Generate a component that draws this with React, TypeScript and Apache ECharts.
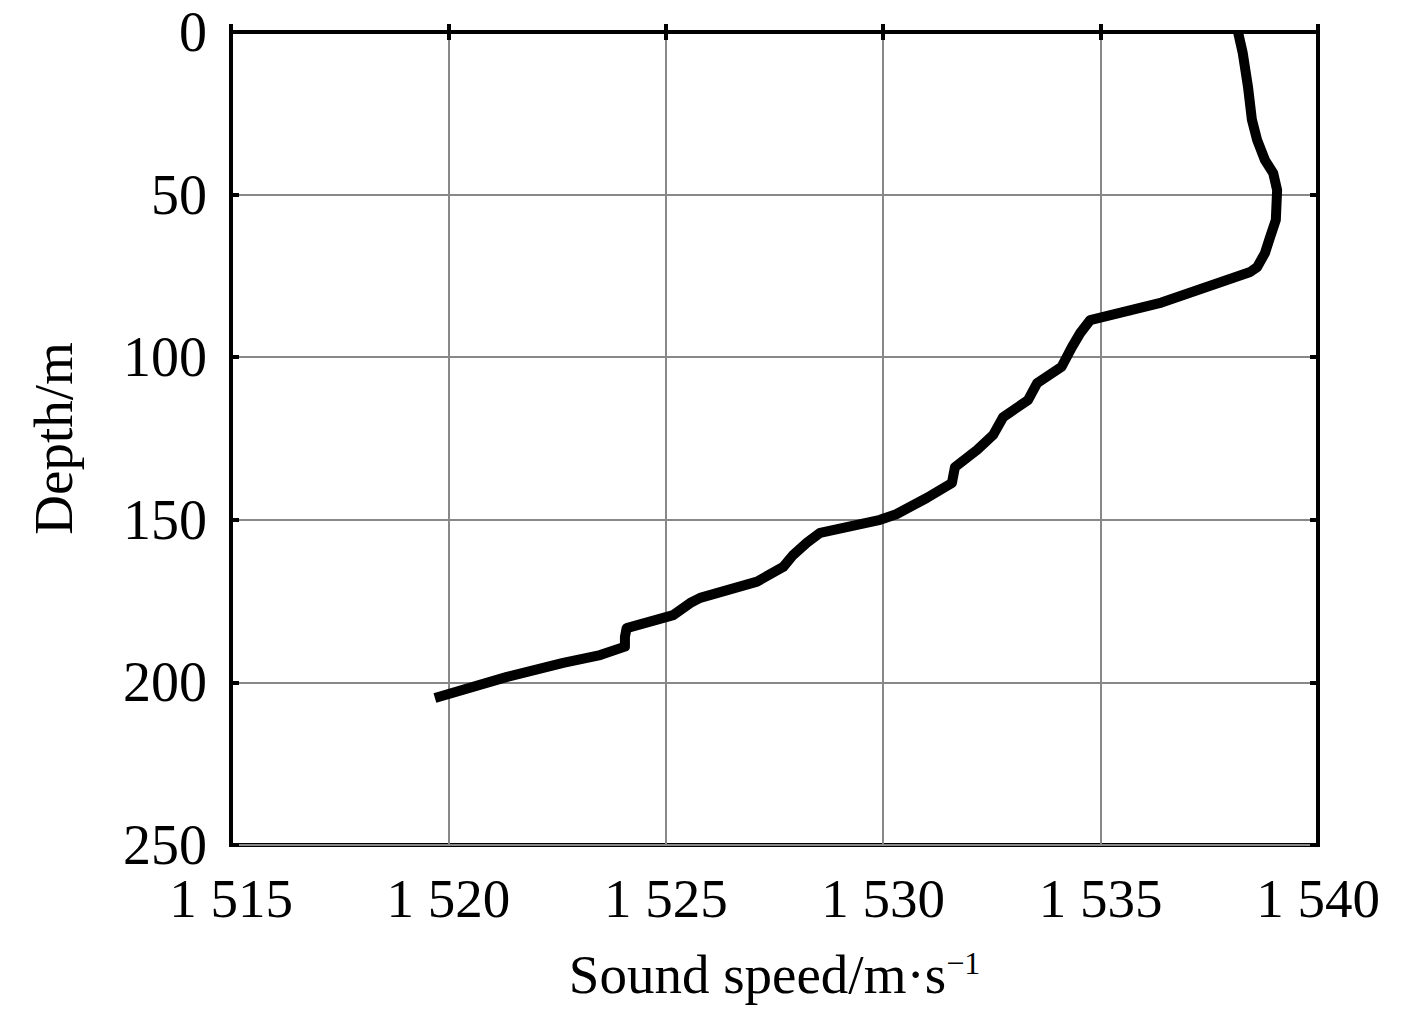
import React, { useEffect, useRef } from "react";
import * as echarts from "echarts";

const depthTicks = [0, 50, 100, 150, 200, 250];
const speedTicks = [1515, 1520, 1525, 1530, 1535, 1540];

const soundSpeed = [
  1538.16, 1538.27, 1538.39, 1538.48, 1538.6, 1538.78, 1538.97, 1539.06, 1539.03,
  1538.9, 1538.78, 1538.6, 1538.44, 1536.4, 1534.76, 1534.53, 1534.34, 1534.1,
  1533.54, 1533.33, 1532.76, 1532.53, 1532.16, 1531.65, 1531.58, 1531.0, 1530.3,
  1529.93, 1528.55, 1528.25, 1527.93, 1527.7, 1527.1, 1525.79, 1525.56, 1525.17,
  1524.1, 1524.06, 1524.06, 1523.49, 1522.64, 1521.35, 1519.69,
];
const depth = [
  0, 6.5, 16.9, 27, 33.2, 39.4, 43.4, 48.6, 57.8,
  63, 68, 72.3, 73.8, 83.2, 88.6, 92.6, 96.9, 103,
  108, 113.2, 118.4, 123.9, 128.5, 133.8, 138.7, 143.3, 148.3,
  150, 154, 157, 160.8, 164.5, 169, 174, 175.6, 179.3,
  183.3, 186, 189, 191.6, 194, 198.3, 204.8,
];

const FONT = "'Liberation Serif', 'Times New Roman', serif";

export default function App() {
  const ref = useRef<HTMLDivElement>(null);
  useEffect(() => {
    if (!ref.current) return;
    const chart = echarts.init(ref.current, undefined, { renderer: "svg" });
    const fmtSpeed = (v: number) => {
      const s = String(v);
      return s.length === 4 ? s[0] + " " + s.slice(1) : s;
    };
    const data = soundSpeed.map((s, i) => [s, depth[i]]);
    const tickStyle = { show: true, inside: true, length: 8, lineStyle: { color: "#000", width: 4 } };
    chart.setOption({
      animation: false,
      backgroundColor: "#fff",
      grid: {
        left: 231,
        right: 99,
        top: 32,
        bottom: 164,
        show: true,
        borderColor: "#000",
        borderWidth: 4,
        backgroundColor: "transparent",
      },
      xAxis: [
        {
          type: "value",
          min: speedTicks[0],
          max: speedTicks[speedTicks.length - 1],
          interval: 5,
          position: "bottom",
          axisLine: { show: true, lineStyle: { color: "#000", width: 4 } },
          axisTick: tickStyle,
          splitLine: { show: true, lineStyle: { color: "#888", width: 2 } },
          axisLabel: {
            fontFamily: FONT,
            fontSize: 55,
            color: "#000",
            margin: 26,
            formatter: fmtSpeed,
          },
          name: "Sound speed/m·s{sup|−1}",
          nameLocation: "middle",
          nameGap: 102,
          nameTextStyle: {
            fontFamily: FONT,
            fontSize: 55,
            color: "#000",
            rich: {
              sup: { fontFamily: FONT, fontSize: 32, color: "#000", verticalAlign: "top", lineHeight: 55, padding: [0, 0, 22, 0] },
            },
          },
        },
        {
          type: "value",
          min: speedTicks[0],
          max: speedTicks[speedTicks.length - 1],
          interval: 5,
          position: "top",
          axisLine: { show: true, lineStyle: { color: "#000", width: 4 } },
          axisTick: tickStyle,
          splitLine: { show: false },
          axisLabel: { show: false },
        },
      ],
      yAxis: [
        {
          type: "value",
          inverse: true,
          min: depthTicks[0],
          max: depthTicks[depthTicks.length - 1],
          interval: 50,
          position: "left",
          axisLine: { show: true, lineStyle: { color: "#000", width: 4 } },
          axisTick: tickStyle,
          splitLine: { show: true, lineStyle: { color: "#888", width: 2 } },
          axisLabel: {
            fontFamily: FONT,
            fontSize: 56,
            color: "#000",
            margin: 24,
          },
          name: "Depth/m",
          nameLocation: "middle",
          nameGap: 150,
          nameTextStyle: { fontFamily: FONT, fontSize: 55, color: "#000" },
        },
        {
          type: "value",
          inverse: true,
          min: depthTicks[0],
          max: depthTicks[depthTicks.length - 1],
          interval: 50,
          position: "right",
          axisLine: { show: true, lineStyle: { color: "#000", width: 4 } },
          axisTick: tickStyle,
          splitLine: { show: false },
          axisLabel: { show: false },
        },
      ],
      series: [
        {
          type: "line",
          data,
          xAxisIndex: 0,
          yAxisIndex: 0,
          showSymbol: false,
          symbol: "none",
          smooth: false,
          lineStyle: { color: "#000", width: 10, join: "round", cap: "butt" },
        },
      ],
    });
    return () => chart.dispose();
  }, []);
  return (
    <div
      ref={ref}
      style={{ position: "absolute", left: 0, top: 0, width: 1417, height: 1009 }}
    />
  );
}
